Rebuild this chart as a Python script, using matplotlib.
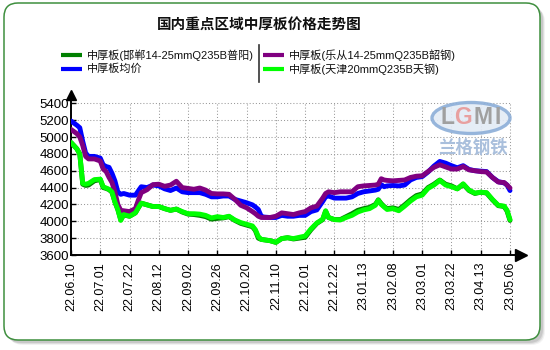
import matplotlib
matplotlib.use('Agg')
import numpy as np
import matplotlib.pyplot as plt
from matplotlib.patches import FancyBboxPatch, Ellipse
from matplotlib.lines import Line2D
from matplotlib.transforms import IdentityTransform

plt.rcParams['font.family'] = ['Liberation Sans', 'Noto Sans CJK SC', 'DejaVu Sans']

# trading-day index of each sample, 10 days between date labels
days = [0, 2, 3, 4, 5, 6, 8, 10, 11, 12,
        13, 14, 15, 16, 17, 18, 20, 22, 23, 24,
        26, 28, 30, 32, 34, 36, 38, 40, 42, 44,
        46, 48, 50, 52, 54, 56, 58, 60, 62, 63,
        64, 65, 66, 68, 70, 72, 74, 76, 78, 80,
        82, 84, 86, 87, 88, 90, 92, 94, 96, 98,
        100, 102, 104, 105, 106, 107, 108, 110, 112, 114,
        116, 118, 120, 122, 124, 126, 128, 130, 132, 134,
        136, 138, 140, 142, 144, 146, 148, 149, 150]

handan = [4935, 4860, 4800, 4440, 4425, 4430, 4480, 4495, 4400, 4390,
          4375, 4345, 4230, 4140, 4020, 4075, 4060, 4100, 4160, 4215,
          4195, 4175, 4175, 4150, 4130, 4145, 4110, 4085, 4080, 4070,
          4055, 4025, 4035, 4040, 4055, 4010, 3975, 3955, 3935, 3890,
          3800, 3785, 3780, 3770, 3750, 3795, 3805, 3790, 3800, 3810,
          3900, 3975, 4020, 4120, 4045, 4020, 4020, 4055, 4090, 4130,
          4150, 4165, 4200, 4255, 4210, 4175, 4150, 4160, 4140, 4195,
          4255, 4305, 4325, 4400, 4440, 4490, 4440, 4420, 4385, 4440,
          4365, 4330, 4345, 4335, 4255, 4185, 4175, 4120, 4010]

average = [5190, 5140, 5110, 4950, 4810, 4770, 4770, 4750, 4670, 4650,
           4640, 4570, 4480, 4350, 4320, 4330, 4310, 4310, 4360, 4410,
           4400, 4430, 4420, 4385, 4365, 4395, 4350, 4340, 4340, 4340,
           4320, 4290, 4290, 4300, 4300, 4260, 4240, 4220, 4195, 4170,
           4140, 4060, 4050, 4045, 4045, 4070, 4060, 4060, 4070, 4070,
           4115, 4135, 4235, 4290, 4300, 4275, 4275, 4275, 4290, 4330,
           4350, 4360, 4370, 4380, 4435, 4410, 4420, 4425, 4420, 4430,
           4490, 4520, 4530, 4585, 4655, 4710, 4690, 4660, 4635, 4660,
           4615, 4600, 4595, 4590, 4520, 4470, 4455, 4430, 4365]

lecong = [5090, 5040, 5000, 4900, 4770, 4740, 4740, 4715, 4620, 4590,
          4520, 4460, 4350, 4200, 4130, 4125, 4115, 4150, 4250, 4340,
          4375, 4435, 4440, 4415, 4430, 4475, 4400, 4390, 4380, 4395,
          4370, 4330, 4325, 4325, 4320, 4260, 4190, 4160, 4115, 4090,
          4060, 4045, 4045, 4045, 4060, 4100, 4090, 4080, 4100, 4115,
          4160, 4180, 4275, 4330, 4350, 4340, 4350, 4350, 4350, 4410,
          4420, 4425, 4430, 4440, 4505, 4490, 4485, 4480, 4485, 4490,
          4520, 4535, 4540, 4590, 4640, 4670, 4645, 4620, 4620, 4650,
          4610, 4600, 4590, 4585, 4520, 4465, 4460, 4430, 4395]

tianjin = [4935, 4860, 4800, 4450, 4440, 4450, 4495, 4500, 4410, 4395,
           4380, 4350, 4230, 4140, 4010, 4080, 4060, 4100, 4160, 4215,
           4195, 4175, 4175, 4150, 4130, 4145, 4115, 4090, 4090, 4085,
           4070, 4040, 4055, 4045, 4060, 4015, 3985, 3965, 3945, 3900,
           3820, 3785, 3780, 3770, 3750, 3795, 3805, 3795, 3810, 3825,
           3910, 3980, 4025, 4125, 4045, 4020, 4015, 4045, 4070, 4110,
           4135, 4150, 4190, 4250, 4200, 4170, 4140, 4150, 4125, 4180,
           4240, 4290, 4310, 4390, 4430, 4485, 4430, 4410, 4385, 4445,
           4370, 4335, 4345, 4340, 4260, 4190, 4180, 4130, 4020]

series_names = ['中厚板(邯郸14-25mmQ235B普阳)', '中厚板均价',
                '中厚板(乐从14-25mmQ235B韶钢)', '中厚板(天津20mmQ235B天钢)']
series_colors = ['#008000', '#0000ff', '#800080', '#00ff00']
series_values = [handan, average, lecong, tianjin]

date_labels = ['22.06.10', '22.07.01', '22.07.22', '22.08.12', '22.09.02', '22.09.26',
               '22.10.20', '22.11.10', '22.12.01', '22.12.22', '23.01.13', '23.02.08',
               '23.03.01', '23.03.22', '23.04.13', '23.05.06']
price_ticks = [3600, 3800, 4000, 4200, 4400, 4600, 4800, 5000, 5200, 5400]

W, H = 550, 350
fig = plt.figure(figsize=(W / 100, H / 100), dpi=100)
fig.patch.set_facecolor('white')
px = IdentityTransform()

# card with soft shadow
for off, a in [(5, 0.10), (4, 0.18), (3, 0.25)]:
    fig.add_artist(FancyBboxPatch((4 + off, 10 - off), 536, 337,
                                  boxstyle='round,pad=0,rounding_size=14',
                                  transform=px, facecolor='#888888', edgecolor='none',
                                  alpha=a, zorder=-3))
fig.add_artist(FancyBboxPatch((4, 10), 536, 337,
                              boxstyle='round,pad=0,rounding_size=14',
                              transform=px, facecolor='white', edgecolor='#3f8f3f',
                              linewidth=1.1, zorder=-2))

fig.text(259 / W, 1 - 25 / H, '国内重点区域中厚板价格走势图', ha='center', va='center',
         fontsize=10.5, fontweight='bold', color='#111111')

# legend: two columns with a divider
legend_slots = [(61, 55), (61, 69), (263, 55), (263, 69)]
for (lx, ly), name, col in zip(legend_slots, series_names, series_colors):
    fig.add_artist(Line2D([lx, lx + 21], [H - ly, H - ly], transform=px,
                          color=col, linewidth=3.0, solid_capstyle='butt'))
    fig.text((lx + 26) / W, 1 - ly / H, name, ha='left', va='center',
             fontsize=8, color='#111111')
fig.add_artist(Line2D([259, 259], [H - 82, H - 45], transform=px,
                      color='#333333', linewidth=1.2))

ax = fig.add_axes([71 / W, (H - 255) / H, (521 - 71) / W, (255 - 95) / H])
n = len(date_labels)
last = (n - 1) * 10
ax.set_xlim(0, (521 - 71) / ((510 - 71) / last))
ax.set_ylim(3600, 3600 + (255 - 95) * 1800 / (255 - 103.3))

ax.hlines(price_ticks[1:], 0, last, colors='#9a9a9a', linewidth=0.75,
          linestyles=(0, (1, 2)), zorder=0)
ax.vlines(np.arange(1, n) * 10, price_ticks[0], price_ticks[-1], colors='#9a9a9a',
          linewidth=0.75, linestyles=(0, (1, 2)), zorder=0)

# watermark logo
ax.add_patch(Ellipse((471, H - 118), 78, 31, transform=px, facecolor='#e3ebf6',
                     edgecolor='#8caed8', linewidth=2.4, alpha=0.9, zorder=1))
for ch, cx, col in zip('LGMI', [447, 463, 483, 498],
                       ['#a0a0a0', '#e8a0a0', '#a0a0a0', '#a0a0a0']):
    ax.text(cx, H - 117, ch, transform=px, ha='center', va='center', fontsize=16.5,
            fontweight='bold', color=col, zorder=1)
ax.text(473, H - 147, '兰格钢铁', transform=px, ha='center', va='center',
        fontsize=12.5, fontweight='bold', color='#a9bfdc', zorder=1)

for vals, col in zip(series_values, series_colors):
    ax.plot(days, vals, color=col, linewidth=3.5, solid_joinstyle='round',
            solid_capstyle='round', zorder=3)

for s in ['top', 'right']:
    ax.spines[s].set_visible(False)
for s in ['left', 'bottom']:
    ax.spines[s].set_linewidth(1.4)
    ax.spines[s].set_color('black')
ax.plot(1, 0, '>', color='black', markersize=9, transform=ax.transAxes, clip_on=False)
ax.plot(0, 1, '^', color='black', markersize=7, transform=ax.transAxes, clip_on=False)

ax.set_xticks(np.arange(n) * 10)
ax.set_xticklabels(date_labels, rotation=90, fontsize=9)
ax.set_yticks(price_ticks)
ax.set_yticklabels([str(v) for v in price_ticks], fontsize=9.5)
ax.tick_params(axis='both', direction='in', length=3.5, width=1, colors='black')
ax.tick_params(axis='x', pad=5)
ax.tick_params(axis='y', pad=1.5)
ax.set_facecolor('none')

fig.savefig('out.png', dpi=100)
